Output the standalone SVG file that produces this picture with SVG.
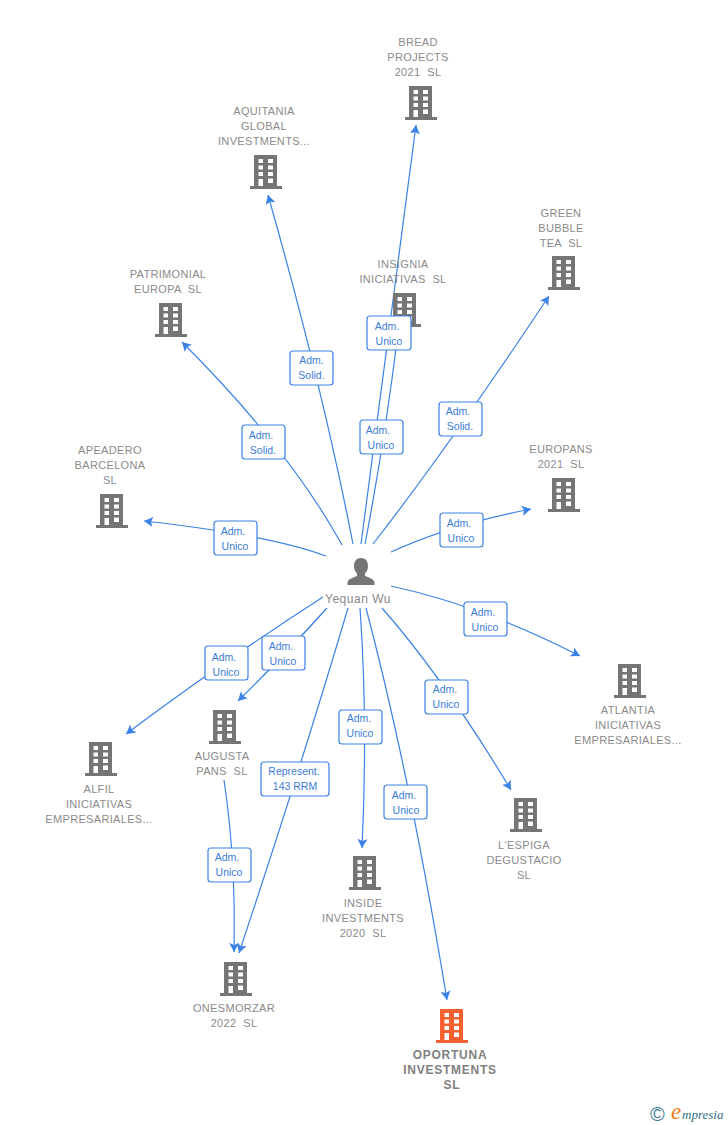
<svg xmlns="http://www.w3.org/2000/svg" width="728" height="1125" viewBox="0 0 728 1125">
<style>
text{font-family:"Liberation Sans",Arial,sans-serif;white-space:pre}
.n{font-size:11px;fill:#8a8a8a;text-anchor:middle;letter-spacing:.33px}
.main{font-size:12px;font-weight:bold;fill:#808080;text-anchor:middle;letter-spacing:.75px}
.c path{fill:none;stroke:#3b82e6;stroke-width:1.2;marker-end:url(#a)}
.l rect{fill:#fff;stroke:#3b82e6;stroke-width:1.2}
.l text{font-size:10.500px;fill:#3b7dd8;text-anchor:middle}
</style>
<defs>
<marker id="a" markerUnits="userSpaceOnUse" markerWidth="12" markerHeight="12" refX="9" refY="5.500" orient="auto"><path d="M0,0.500L9,5.500L0,10.500L2,5.500Z" fill="#3b82e6"/></marker>
<path id="b" fill-rule="evenodd" d="M-12,0H11V31H16V34H-16V31H-12ZM-7.500,4V8H-3V4ZM2,4V8H7V4ZM-7.500,10.500V14.500H-3V10.500ZM2,10.500V14.500H7V10.500ZM-7.500,17V21H-3V17ZM2,17V21H7V17ZM-7.500,24V31H-3V24ZM2,23.500V28H7V23.500Z"/>
</defs>
<g id="connectors" class="c">
<path d="M361,544Q390,330 416,125"/>
<path d="M365,544Q385,440 399,325"/>
<path d="M353,544Q322,385 268,195"/>
<path d="M342,545Q290,450 182,342"/>
<path d="M326,556Q270,535 144,521"/>
<path d="M373,544Q450,445 549,296"/>
<path d="M391,552Q450,525 531,509"/>
<path d="M391,586Q480,605 580,656"/>
<path d="M382,608Q445,680 511,790"/>
<path d="M366,608Q410,775 447,1000"/>
<path d="M360,608Q368,720 362,848"/>
<path d="M348,608Q300,770 239,953"/>
<path d="M224,780Q236,860 234,952"/>
<path d="M327,608Q285,655 238,701"/>
<path d="M323,597Q225,660 126,734"/>
</g>
<g id="n-bread" fill="#757575"><use href="#b" x="421" y="86"/><text class="n" x="418" y="46">BREAD</text><text class="n" x="418" y="61">PROJECTS</text><text class="n" x="418" y="76">2021  SL</text></g>
<g id="n-aquitania" fill="#757575"><use href="#b" x="266" y="155"/><text class="n" x="264" y="115">AQUITANIA</text><text class="n" x="264" y="130">GLOBAL</text><text class="n" x="264" y="145">INVESTMENTS...</text></g>
<g id="n-green" fill="#757575"><use href="#b" x="564" y="256"/><text class="n" x="561" y="217">GREEN</text><text class="n" x="561" y="232">BUBBLE</text><text class="n" x="561" y="247">TEA  SL</text></g>
<g id="n-insignia" fill="#757575"><use href="#b" x="405" y="293"/><text class="n" x="403" y="268">INSIGNIA</text><text class="n" x="403" y="283">INICIATIVAS  SL</text></g>
<g id="n-patrimonial" fill="#757575"><use href="#b" x="171" y="303"/><text class="n" x="168" y="278">PATRIMONIAL</text><text class="n" x="168" y="293">EUROPA  SL</text></g>
<g id="n-europans" fill="#757575"><use href="#b" x="564" y="478"/><text class="n" x="561" y="453">EUROPANS</text><text class="n" x="561" y="468">2021  SL</text></g>
<g id="n-apeadero" fill="#757575"><use href="#b" x="112" y="494"/><text class="n" x="110" y="454">APEADERO</text><text class="n" x="110" y="469">BARCELONA</text><text class="n" x="110" y="484">SL</text></g>
<g id="n-atlantia" fill="#757575"><use href="#b" x="630" y="664"/><text class="n" x="628" y="714">ATLANTIA</text><text class="n" x="628" y="729">INICIATIVAS</text><text class="n" x="628" y="744">EMPRESARIALES...</text></g>
<g id="n-alfil" fill="#757575"><use href="#b" x="101" y="742"/><text class="n" x="99" y="793">ALFIL</text><text class="n" x="99" y="808">INICIATIVAS</text><text class="n" x="99" y="823">EMPRESARIALES...</text></g>
<g id="n-augusta" fill="#757575"><use href="#b" x="225" y="710"/><text class="n" x="222" y="760">AUGUSTA</text><text class="n" x="222" y="775">PANS  SL</text></g>
<g id="n-espiga" fill="#757575"><use href="#b" x="526" y="798"/><text class="n" x="524" y="849">L'ESPIGA</text><text class="n" x="524" y="864">DEGUSTACIO</text><text class="n" x="524" y="879">SL</text></g>
<g id="n-inside" fill="#757575"><use href="#b" x="365" y="856"/><text class="n" x="363" y="907">INSIDE</text><text class="n" x="363" y="922">INVESTMENTS</text><text class="n" x="363" y="937">2020  SL</text></g>
<g id="n-onesmorzar" fill="#757575"><use href="#b" x="236" y="962"/><text class="n" x="234" y="1012">ONESMORZAR</text><text class="n" x="234" y="1027">2022  SL</text></g>
<g id="n-oportuna" fill="#f4602e"><use href="#b" x="452" y="1009"/><text class="main" x="450" y="1059">OPORTUNA</text><text class="main" x="450" y="1074">INVESTMENTS</text><text class="main" x="452" y="1089">SL</text></g>
<g id="n-person"><path fill="#757575" d="M361,558c-4.500,0-7,3.500-7,8c0,3.500,1.500,6,3,7.500v2.500c-3,1.500-9.500,2.500-9.500,7v2h27v-2c0-4.500-6.500-5.500-9.500-7v-2.500c1.500-1.500,3-4,3-7.500c0-4.500-2.500-8-7-8Z"/><text x="358" y="603" text-anchor="middle" font-size="12" letter-spacing=".5" fill="#8a8a8a">Yequan Wu</text></g>
<g id="labels" class="l">
<g><rect x="290" y="351" width="43" height="34" rx="3"/><text x="311.500" y="364">Adm.</text><text x="311.500" y="379">Solid.</text></g>
<g><rect x="367" y="316" width="44" height="34" rx="3"/><text x="387" y="330">Adm.</text><text x="389" y="345">Unico</text></g>
<g><rect x="360" y="420" width="43" height="34" rx="3"/><text x="378" y="434">Adm.</text><text x="381" y="449">Unico</text></g>
<g><rect x="439" y="402" width="43" height="34" rx="3"/><text x="458" y="415">Adm.</text><text x="460" y="430">Solid.</text></g>
<g><rect x="242" y="425" width="43" height="34" rx="3"/><text x="261" y="439">Adm.</text><text x="263" y="454">Solid.</text></g>
<g><rect x="214" y="521" width="43" height="34" rx="3"/><text x="233" y="535">Adm.</text><text x="235" y="550">Unico</text></g>
<g><rect x="440" y="513" width="43" height="34" rx="3"/><text x="459" y="527">Adm.</text><text x="461" y="542">Unico</text></g>
<g><rect x="464" y="602" width="43" height="34" rx="3"/><text x="483" y="616">Adm.</text><text x="485" y="631">Unico</text></g>
<g><rect x="205" y="646" width="43" height="34" rx="3"/><text x="224" y="661">Adm.</text><text x="226" y="676">Unico</text></g>
<g><rect x="262" y="636" width="43" height="34" rx="3"/><text x="281" y="650">Adm.</text><text x="283" y="665">Unico</text></g>
<g><rect x="261" y="762" width="68" height="34" rx="3"/><text x="294" y="775">Represent.</text><text x="295" y="790">143 RRM</text></g>
<g><rect x="339" y="710" width="43" height="34" rx="3"/><text x="359" y="722">Adm.</text><text x="360" y="737">Unico</text></g>
<g><rect x="425" y="680" width="43" height="34" rx="3"/><text x="445" y="693">Adm.</text><text x="446" y="708">Unico</text></g>
<g><rect x="384" y="785" width="43" height="34" rx="3"/><text x="404" y="799">Adm.</text><text x="406" y="814">Unico</text></g>
<g><rect x="208" y="848" width="43" height="34" rx="3"/><text x="227" y="861">Adm.</text><text x="229" y="876">Unico</text></g>
</g>
<g id="logo"><text x="650" y="1121" font-size="20" fill="#3a7a90">©</text><text x="671" y="1119" font-size="23" font-style="italic" fill="#f08020" style="font-family:'Liberation Serif',serif">e</text><text x="682" y="1119" font-size="13" font-style="italic" fill="#2f6f85" style="font-family:'Liberation Serif',serif">mpresia</text></g>
</svg>
